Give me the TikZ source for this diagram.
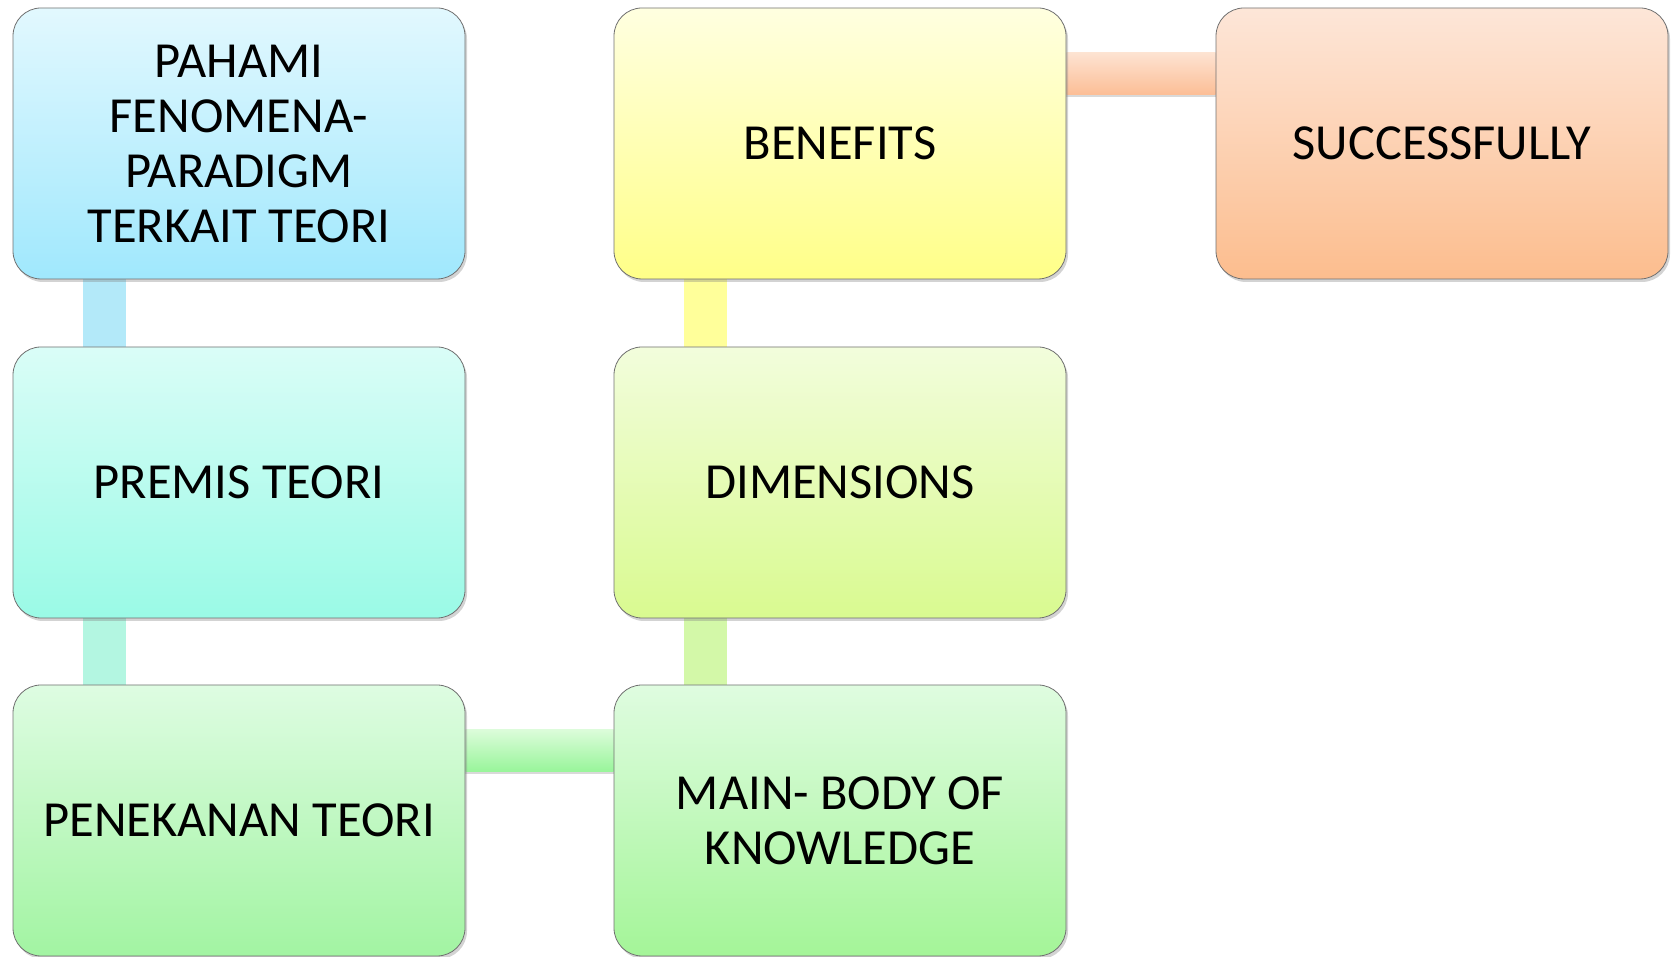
\documentclass[tikz,border=0pt]{standalone}
\usepackage{fontspec}
\setmainfont{Carlito}
\usetikzlibrary{shadows}
\pgfdeclarelayer{bg}
\pgfsetlayers{bg,main}
\definecolor{b1t}{HTML}{E2F8FE}\definecolor{b1b}{HTML}{A0E8FD}
\definecolor{b2t}{HTML}{DAFDF7}\definecolor{b2b}{HTML}{9AFAE6}
\definecolor{b3t}{HTML}{DEFCE2}\definecolor{b3b}{HTML}{A2F4A2}
\definecolor{b4t}{HTML}{FFFFE0}\definecolor{b4b}{HTML}{FFFF88}
\definecolor{b5t}{HTML}{F2FDDC}\definecolor{b5b}{HTML}{D9FA90}
\definecolor{b6t}{HTML}{DFFCE0}\definecolor{b6b}{HTML}{A4F598}
\definecolor{b7t}{HTML}{FDE6D8}\definecolor{b7b}{HTML}{FCBD8E}
\definecolor{bord}{HTML}{707070}
\definecolor{v1}{HTML}{B3E9F9}\definecolor{v2}{HTML}{B3F6E1}
\definecolor{v3}{HTML}{FFFF9A}\definecolor{v4}{HTML}{D3F8A8}
\definecolor{h1t}{HTML}{FDE3D2}\definecolor{h1b}{HTML}{FCBE96}
\definecolor{h2t}{HTML}{DCFCDA}\definecolor{h2b}{HTML}{98F59A}
\tikzset{
  card/.style={draw=bord, line width=0.8pt, rounded corners=28pt,
    minimum width=452pt, minimum height=271pt, inner sep=0pt,
    align=center, font=\fontsize{50.5}{55}\selectfont,
    drop shadow={opacity=0.35, shadow xshift=2pt, shadow yshift=-3pt}},
  vbar/.style={line width=43pt},
}
\begin{document}
\begin{tikzpicture}[x=1pt,y=1pt]
\useasboundingbox (0,0) rectangle (1671,957);
\node[card, top color=b1t, bottom color=b1b] (n1) at (239,813.5) {PAHAMI\\FENOMENA-\\PARADIGM\\TERKAIT TEORI};
\node[card, top color=b2t, bottom color=b2b] (n2) at (239,474.5) {PREMIS TEORI};
\node[card, top color=b3t, bottom color=b3b] (n3) at (239,136.5) {PENEKANAN TEORI};
\node[card, top color=b4t, bottom color=b4b] (n4) at (840,813.5) {BENEFITS};
\node[card, top color=b5t, bottom color=b5b] (n5) at (840,474.5) {DIMENSIONS};
\node[card, top color=b6t, bottom color=b6b] (n6) at (840,136.5) {MAIN- BODY OF\\KNOWLEDGE};
\node[card, top color=b7t, bottom color=b7b] (n7) at (1442,813.5) {SUCCESSFULLY};
\begin{pgfonlayer}{bg}
\draw[vbar, v1] ([xshift=91.5pt]n1.south west) -- ([xshift=91.5pt]n2.north west);
\draw[vbar, v2] ([xshift=91.5pt]n2.south west) -- ([xshift=91.5pt]n3.north west);
\draw[vbar, v3] ([xshift=91.5pt]n4.south west) -- ([xshift=91.5pt]n5.north west);
\draw[vbar, v4] ([xshift=91.5pt]n5.south west) -- ([xshift=91.5pt]n6.north west);
\shade[top color=h1t, bottom color=h1b, drop shadow={opacity=0.3, shadow xshift=0pt, shadow yshift=-2pt}] ([yshift=-45pt]n4.north east) rectangle ([yshift=-87pt]n7.north west);
\shade[top color=h2t, bottom color=h2b, drop shadow={opacity=0.3, shadow xshift=0pt, shadow yshift=-2pt}] ([yshift=-45pt]n3.north east) rectangle ([yshift=-87pt]n6.north west);
\end{pgfonlayer}
\end{tikzpicture}
\end{document}
